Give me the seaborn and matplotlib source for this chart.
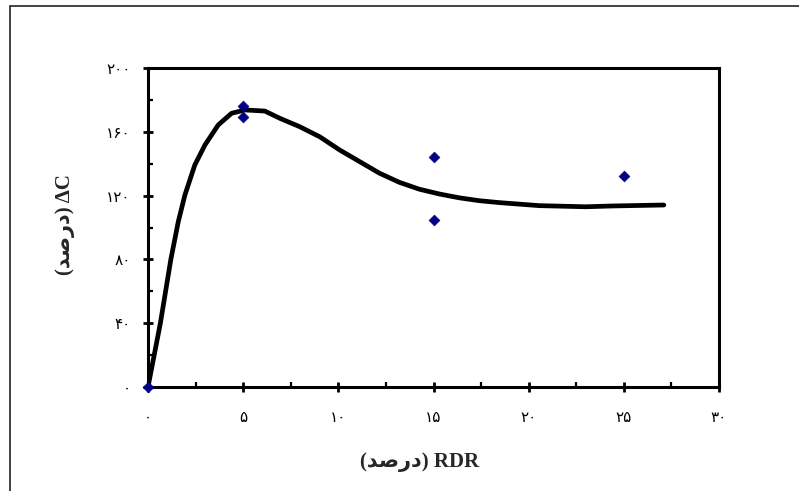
import matplotlib
matplotlib.use('Agg')
import matplotlib.pyplot as plt
import seaborn as sns
from matplotlib.ticker import MultipleLocator, FuncFormatter
from matplotlib.patches import Rectangle

# observed points (diamonds)
rdr_obs = [0, 5, 5, 15, 15, 25]
dc_obs = [0, 176, 169, 144, 105, 132]

# fitted curve
rdr_fit = [0, 0.65, 1.2, 1.59, 1.94, 2.46, 2.99, 3.69, 4.39, 5.09, 6.14,
           6.92, 7.97, 9.02, 10.07, 11.12, 12.17, 13.21, 14.26, 15.31,
           16.36, 17.41, 18.46, 20.56, 23.0, 24.4, 27.1]
dc_fit = [0, 40, 80, 103.6, 120.4, 139.2, 151.7, 164.3, 171.6, 173.7, 173,
          168.5, 163.2, 156.9, 148.6, 141.3, 134.0, 128.3, 124.0, 121.0,
          118.6, 116.8, 115.6, 113.7, 113, 113.5, 114.1]

x_ticks = [0, 5, 10, 15, 20, 25, 30]
y_ticks = [0, 40, 80, 120, 160, 200]

# "(درصد)" pre-shaped in visual order (matplotlib has no bidi shaping)
darsad = '(\uFEAA\uFEBB\uFEAD\uFEA9)'
x_label = darsad + ' RDR'
y_label = darsad + ' \u0394C'

fa_digits = str.maketrans('0123456789', '۰۱۲۳۴۵۶۷۸۹')


def fa(v, pos):
    return str(int(round(v))).translate(fa_digits)


sns.set_style('white')
plt.rcParams['font.family'] = ['DejaVu Sans']

fig = plt.figure(figsize=(7.99, 4.91), dpi=100)
fig.patch.set_facecolor('white')
ax = fig.add_axes([148 / 799, 1 - 387 / 491, (719 - 148) / 799, (387 - 68) / 491])

sns.lineplot(x=rdr_fit, y=dc_fit, ax=ax, color='black', linewidth=3.4, zorder=3,
             solid_joinstyle='round', solid_capstyle='round')
sns.scatterplot(x=rdr_obs, y=dc_obs, ax=ax, marker='D', s=30, color='#000080',
                edgecolor='#000080', linewidth=0.5, zorder=4, clip_on=False)

ax.set_xlim(0, 30)
ax.set_ylim(0, 200)
ax.set_xticks(x_ticks)
ax.set_yticks(y_ticks)
ax.xaxis.set_minor_locator(MultipleLocator(2.5))
ax.yaxis.set_minor_locator(MultipleLocator(20))
ax.xaxis.set_major_formatter(FuncFormatter(fa))
ax.yaxis.set_major_formatter(FuncFormatter(fa))

for s in ax.spines.values():
    s.set_linewidth(2.2)
    s.set_color('black')

ax.tick_params(axis='both', which='both', bottom=True, left=True, top=False, right=False)
ax.tick_params(axis='both', which='major', direction='inout', length=7, width=2,
               labelsize=11, colors='black')
ax.tick_params(axis='both', which='minor', direction='in', length=3.5, width=1.6,
               colors='black')
ax.tick_params(axis='x', which='major', pad=13)
ax.tick_params(axis='y', which='major', pad=9)

lab_font = dict(family=['Liberation Serif', 'DejaVu Sans'], fontweight='bold', fontsize=15)
ax.set_xlabel(x_label, **lab_font)
ax.set_ylabel(y_label, **lab_font)
ax.xaxis.set_label_coords(0.476, -0.235)
ax.xaxis.label.set_verticalalignment('center')
ax.yaxis.set_label_coords(-0.145, 0.508)
ax.yaxis.label.set_verticalalignment('center')

# outer chart frame (right and bottom cropped in the original)
fig.add_artist(Rectangle((10 / 799, -0.2), 1.3, 1.2 - 6 / 491,
                         transform=fig.transFigure, fill=False,
                         edgecolor='#222222', linewidth=1.2))

fig.savefig('out.png', dpi=100, facecolor='white')
